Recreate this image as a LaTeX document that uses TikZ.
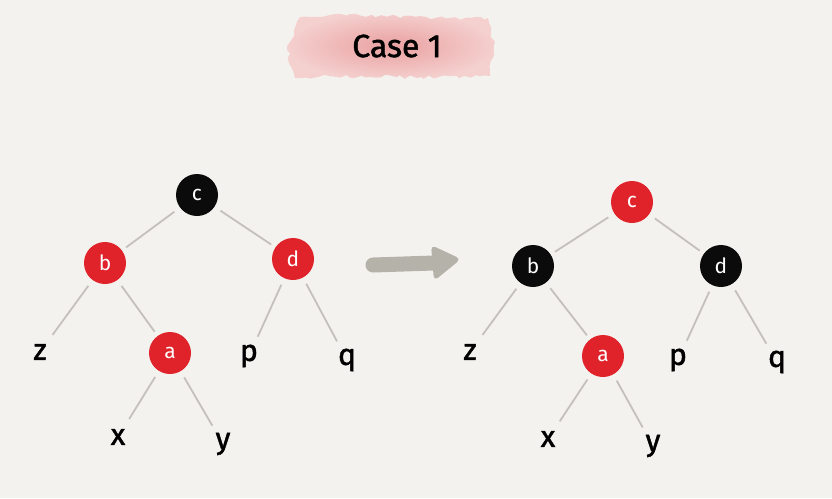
\documentclass[tikz,border=0pt]{standalone}
\usepackage{fontspec}
\setmainfont{Fira Sans}
\newfontfamily\inkfont{Fira Sans}[FakeBold=1.6]
\usetikzlibrary{decorations.pathmorphing}
\definecolor{paper}{HTML}{F4F2EE}
\definecolor{rbred}{HTML}{E0222A}
\definecolor{rbblack}{HTML}{0B0B0B}
\definecolor{edgegray}{HTML}{C4C1BC}
\definecolor{arrowgray}{HTML}{B5B2AA}
\definecolor{blushin}{HTML}{EAA0A1}
\definecolor{blushout}{HTML}{F4D0CE}
\begin{document}
\begin{tikzpicture}[x=1pt,y=-1pt,
  rbnode/.style={circle, minimum size=42pt, inner sep=0pt, text=white,
    font=\fontsize{21}{21}\selectfont},
  rednode/.style={rbnode, fill=rbred},
  blacknode/.style={rbnode, fill=rbblack},
  leaf/.style={circle, minimum size=32pt, inner sep=0pt,
    font=\inkfont\fontsize{30}{30}\selectfont},
  link/.style={draw=edgegray, line width=1.8pt, shorten <=7pt, shorten >=5pt},
  bigarrow/.style={draw=arrowgray, fill=arrowgray, line join=round}]

% canvas
\fill[paper] (0,0) rectangle (832,498);
\useasboundingbox (0,0) rectangle (832,498);

% brush-stroke title
\pgfmathsetseed{11}
\shade[inner color=blushin, outer color=blushout,
  decorate, decoration={random steps, segment length=5pt, amplitude=2pt}]
  (300,17) .. controls (380,12) and (430,20) .. (488,18)
  -- (494,45) -- (490,76)
  .. controls (420,80) and (360,74) .. (295,78)
  -- (287,50) -- cycle;
\node (title) at (397,46) {\inkfont\fontsize{32}{32}\selectfont Case 1};

% ---- left tree (before) ----
\node[blacknode] (lc) at (197,195) {c};
\node[rednode]   (lb) at (105,263) {b};
\node[rednode]   (ld) at (293,259) {d};
\node[rednode]   (la) at (170,353) {a};
\node[leaf] (lz) at (40,352) {z};
\node[leaf] (lp) at (249,356) {p};
\node[leaf] (lq) at (347,360) {q};
\node[leaf] (lx) at (118,437) {x};
\node[leaf] (ly) at (223,444) {y};

\draw[link] (lc) -- (lb);
\draw[link] (lc) -- (ld);
\draw[link] (lb) -- (lz);
\draw[link] (lb) -- (la);
\draw[link] (ld) -- (lp);
\draw[link] (ld) -- (lq);
\draw[link] (la) -- (lx);
\draw[link] (la) -- (ly);

% recolouring step
\coordinate (ashaft) at (373,265);
\coordinate (ahead)  at (434,263);
\draw[arrowgray, line width=15pt, line cap=round] (ashaft) -- (ahead);
\fill[arrowgray, rounded corners=5pt] (431,245) -- (461,259) -- (434,281) -- cycle;

% ---- right tree (after) ----
\node[rednode]   (rc) at (632,202) {c};
\node[blacknode] (rb) at (533,266) {b};
\node[blacknode] (rd) at (721,266) {d};
\node[rednode]   (ra) at (603,356) {a};
\node[leaf] (rz) at (470,352) {z};
\node[leaf] (rp) at (678,360) {p};
\node[leaf] (rq) at (777,362) {q};
\node[leaf] (rx) at (548,439) {x};
\node[leaf] (ry) at (653,446) {y};

\draw[link] (rc) -- (rb);
\draw[link] (rc) -- (rd);
\draw[link] (rb) -- (rz);
\draw[link] (rb) -- (ra);
\draw[link] (rd) -- (rp);
\draw[link] (rd) -- (rq);
\draw[link] (ra) -- (rx);
\draw[link] (ra) -- (ry);
\end{tikzpicture}
\end{document}
